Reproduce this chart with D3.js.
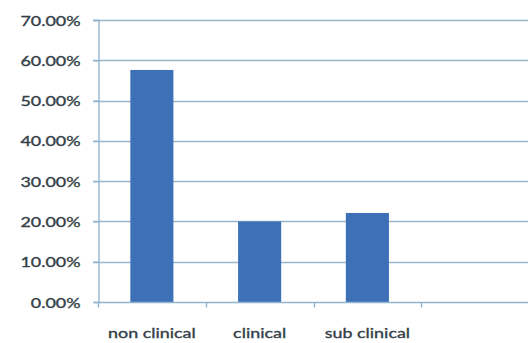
<!DOCTYPE html>
<html>
<head>
<meta charset="utf-8">
<script src="https://cdn.jsdelivr.net/npm/d3@7"></script>
<style>
  html, body { margin: 0; padding: 0; background: #fff; }
  svg { display: block; }
  text { font-family: Lato, "Open Sans", sans-serif; fill: #343f47; stroke: #343f47; stroke-width: 0.35px; }
</style>
</head>
<body>
<svg id="chart" width="528" height="343"></svg>
<script>
// Share of cases by category (the fourth slot of the axis is left empty)
const categories = ["non clinical", "clinical", "sub clinical", ""];
const shares = [0.576, 0.20, 0.221, null];
const yTicks = [0, 0.1, 0.2, 0.3, 0.4, 0.5, 0.6, 0.7];

const svg = d3.select("#chart");
const W = 528, H = 343;
const m = { left: 98, right: -1, top: 20, bottom: 41 };
const textStretch = 1.28;

const x = d3.scaleBand()
  .domain(categories.map((c, i) => i))
  .range([m.left, W - m.right])
  .paddingInner(0)
  .paddingOuter(0);

const y = d3.scaleLinear()
  .domain([0, 0.7])
  .range([H - m.bottom, m.top]);

// horizontal gridlines
svg.append("g")
  .selectAll("line")
  .data(yTicks.filter(t => t > 0))
  .join("line")
  .attr("x1", m.left - 5)
  .attr("x2", W)
  .attr("y1", d => Math.round(y(d)) + 0.5)
  .attr("y2", d => Math.round(y(d)) + 0.5)
  .attr("stroke", "#9cb6c9")
  .attr("stroke-width", 1.4);

// bars
const bw = x.bandwidth() * 0.4;
svg.append("g")
  .selectAll("rect")
  .data(shares.map((v, i) => ({ v, i })).filter(d => d.v != null))
  .join("rect")
  .attr("x", d => x(d.i) + (x.bandwidth() - bw) / 2)
  .attr("width", bw)
  .attr("y", d => y(d.v))
  .attr("height", d => y(0) - y(d.v))
  .attr("fill", "#3e70b8");

// y axis
const yAxis = svg.append("g")
  .attr("transform", `translate(${m.left + 0.5},0)`)
  .call(d3.axisLeft(y).tickValues(yTicks).tickSize(5).tickFormat(d3.format(".2%")));
yAxis.select(".domain").attr("stroke", "#92b4cf").attr("stroke-width", 1.4);
yAxis.selectAll(".tick line").attr("stroke", "#92b4cf").attr("stroke-width", 1.4);
yAxis.selectAll(".tick text")
  .attr("x", null).attr("dy", null)
  .attr("text-anchor", "end")
  .attr("font-size", 14)
  .attr("transform", `translate(-18,5) scale(${textStretch},1)`)
  .style("font-family", "Lato, sans-serif")
  .attr("fill", "#343f47");

// x axis with ticks at the category boundaries
const xAxisG = svg.append("g")
  .attr("transform", `translate(0,${Math.round(y(0)) + 0.5})`);
xAxisG.append("line")
  .attr("x1", m.left).attr("x2", W)
  .attr("stroke", "#92b4cf").attr("stroke-width", 1.4);
const bounds = categories.map((c, i) => x(i) + x.bandwidth());
xAxisG.selectAll("line.tick")
  .data([m.left].concat(bounds))
  .join("line")
  .attr("class", "tick")
  .attr("x1", d => Math.round(d) + 0.5)
  .attr("x2", d => Math.round(d) + 0.5)
  .attr("y1", 0).attr("y2", 5)
  .attr("stroke", "#92b4cf").attr("stroke-width", 1.4);
xAxisG.selectAll("text")
  .data(categories)
  .join("text")
  .attr("text-anchor", "middle")
  .attr("font-size", 14)
  .attr("transform", (d, i) => `translate(${x(i) + x.bandwidth() / 2},35) scale(${textStretch},1)`)
  .text(d => d);
</script>
</body>
</html>
